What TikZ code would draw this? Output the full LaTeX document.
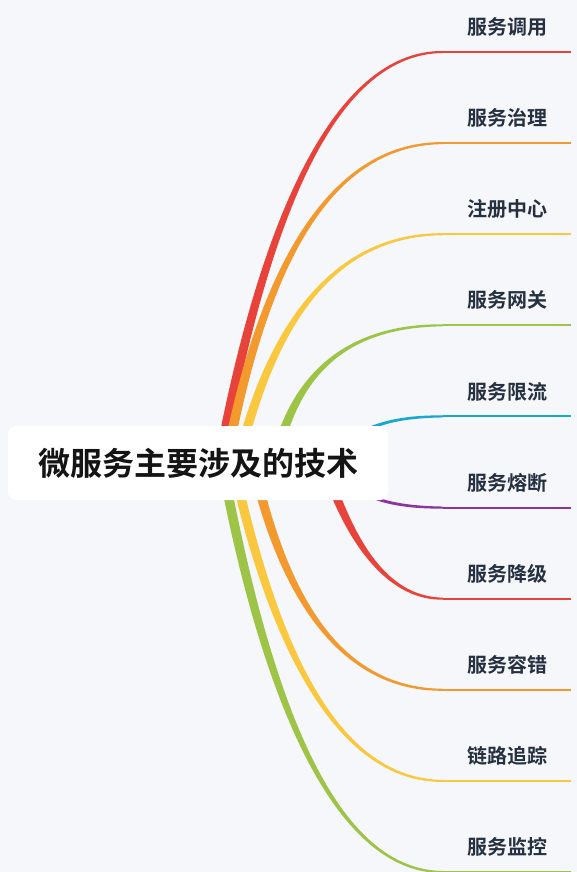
\documentclass[tikz,border=0pt]{standalone}
\usepackage{fontspec}
\newfontfamily\cjk{Noto Sans CJK SC}[BoldFont={Noto Sans CJK SC Bold}]
\usetikzlibrary{calc}
\definecolor{bg}{HTML}{F6F7FA}
\definecolor{cred}{HTML}{E8433A}
\definecolor{corange}{HTML}{F29A2E}
\definecolor{cyellow}{HTML}{F9C83E}
\definecolor{cgreen}{HTML}{9DC347}
\definecolor{ccyan}{HTML}{1AA8D0}
\definecolor{cpurple}{HTML}{8B35A0}
\definecolor{ctext}{HTML}{253041}
\begin{document}
\begin{tikzpicture}[x=1pt,y=-1pt,
  lbl/.style={font=\cjk\bfseries\fontsize{20}{24}\selectfont, text=ctext, inner sep=0pt},
  rootbox/.style={fill=white, rounded corners=8pt, minimum width=380pt, minimum height=74pt,
    inner sep=0pt, font=\cjk\bfseries\fontsize{32}{38}\selectfont, text=black!92},
  underline/.style={line width=2pt}]
\fill[bg] (0,0) rectangle (577,872);
\useasboundingbox (0,0) rectangle (577,872);
\def\w{5}
\foreach \i/\c/\sx/\qx/\lab in {
  1/cred/219/295/服务调用,
  2/corange/226/285/服务治理,
  3/cyellow/238/292/注册中心,
  4/cgreen/275/303/服务网关,
  5/ccyan/340/350/服务限流,
  6/cpurple/340/350/服务熔断,
  7/cred/324/368/服务降级,
  8/corange/253/304/服务容错,
  9/cyellow/233/302/链路追踪,
  10/cgreen/222/298/服务监控}{
  \pgfmathsetmacro\ey{52+91.11*(\i-1)}
  \pgfmathsetmacro\sg{\ey<463 ? -1 : 1}
  \pgfmathsetmacro\nsg{-\sg}
  \coordinate (S\i) at (\sx,463);
  \coordinate (Q\i) at (\qx,\ey);
  \coordinate (E\i) at (443,\ey);
  \coordinate (T\i) at (571,\ey);
  \node[lbl] (L\i) at (507,\ey-25) {\lab};
  \fill[\c] ($(S\i)+(-\w,0)$)
     .. controls ($(S\i)!0.6667!(Q\i)+(-0.9*\w,0)$) and ($(E\i)!0.6667!(Q\i)+(0,\sg*2)$)
     .. ($(E\i)+(0,\sg)$) -- ($(E\i)+(0,\nsg)$)
     .. controls ($(E\i)!0.6667!(Q\i)+(0,\nsg*2)$) and ($(S\i)!0.6667!(Q\i)+(0.9*\w,0)$)
     .. ($(S\i)+(\w,0)$) -- cycle;
  \draw[\c, underline] (E\i) -- (T\i);
}
\node[rootbox] (root) at (198,463) {微服务主要涉及的技术};
\end{tikzpicture}
\end{document}
